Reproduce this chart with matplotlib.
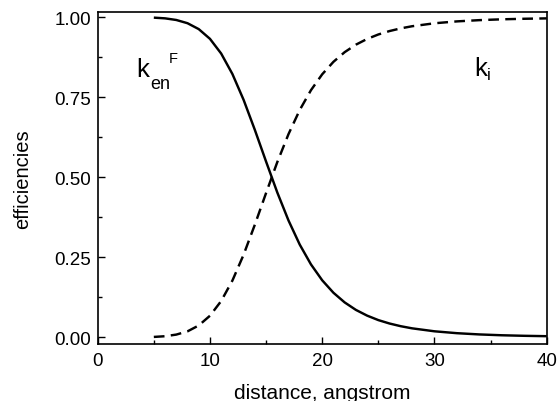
import matplotlib
matplotlib.use("Agg")
import matplotlib.pyplot as plt

plt.rcParams['font.family'] = ['Liberation Sans', 'DejaVu Sans']

distance = [5, 6, 7, 8, 9, 10, 11, 12, 13, 14, 15, 16, 17, 18, 19, 20,
            21, 22, 23, 24, 25, 26, 27, 28, 30, 32, 34, 36, 38, 40]
k_en_F = [0.9989, 0.9967, 0.9916, 0.9815, 0.9631, 0.9327, 0.8867, 0.8228,
          0.7418, 0.6481, 0.5491, 0.4525, 0.3649, 0.2896, 0.2277, 0.1781,
          0.1392, 0.1090, 0.0856, 0.0677, 0.0537, 0.0430, 0.0346, 0.0280,
          0.0187, 0.0128, 0.0089, 0.0063, 0.0046, 0.0034]
k_i = [0.0011, 0.0033, 0.0084, 0.0185, 0.0369, 0.0673, 0.1133, 0.1772,
       0.2582, 0.3519, 0.4509, 0.5475, 0.6351, 0.7104, 0.7723, 0.8219,
       0.8608, 0.8910, 0.9144, 0.9323, 0.9463, 0.9570, 0.9654, 0.9720,
       0.9813, 0.9872, 0.9911, 0.9937, 0.9954, 0.9966]

x_ticks = [0, 10, 20, 30, 40]
y_ticks = [0.00, 0.25, 0.50, 0.75, 1.00]
y_tick_labels = ["0.00", "0.25", "0.50", "0.75", "1.00"]

W, H = 557, 402
fig = plt.figure(figsize=(W / 100, H / 100), dpi=100)
ax = fig.add_axes([97.7 / W, 1 - 345 / H, (546.7 - 97.7) / W, (345 - 13.3) / H])

ax.plot(distance, k_en_F, color='black', lw=1.75, solid_capstyle='butt')
ax.plot(distance, k_i, color='black', lw=1.75, linestyle=(0, (4.4, 2.6)))

ax.set_xlim(0, 40)
ax.set_ylim(-0.021, 1.0156)
ax.set_xticks(x_ticks)
ax.set_xticks([5, 15, 25, 35], minor=True)
ax.set_yticks(y_ticks)
ax.set_yticklabels(y_tick_labels)
ax.set_yticks([0.125, 0.375, 0.625, 0.875], minor=True)

for s in ax.spines.values():
    s.set_linewidth(1.2)

ax.tick_params(which='both', direction='in', top=False, right=False, width=1.0,
               labelsize=13.5)
ax.tick_params(which='major', length=5)
ax.tick_params(which='minor', length=3)
ax.tick_params(axis='y', pad=5)
ax.tick_params(axis='x', pad=6)

ax.set_xlabel("distance, angstrom", fontsize=15, labelpad=10)
ax.set_ylabel("efficiencies", fontsize=14.5, labelpad=16)

def ftext(px, py, s, size):
    fig.text(px / W, 1 - py / H, s, fontsize=size, va='baseline', ha='left')

ftext(136.5, 76.7, "k", 18.5)
ftext(150.5, 89.3, "en", 13)
ftext(168.5, 63.3, "F", 10.5)
ftext(474.5, 75.5, "k", 18.5)
ftext(486.5, 80.5, "i", 12)

fig.savefig("out.png", dpi=100)
